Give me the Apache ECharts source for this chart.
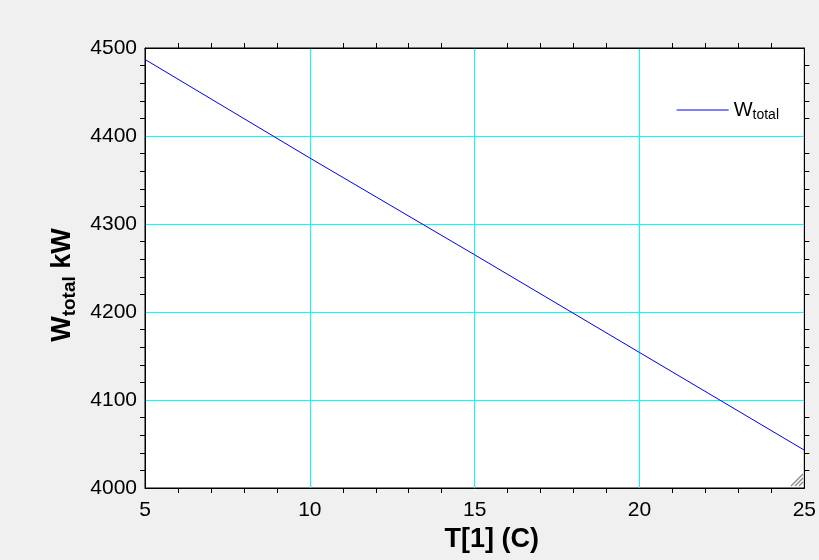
<!DOCTYPE html>
<html>
<head>
<meta charset="utf-8">
<script src="https://cdn.jsdelivr.net/npm/echarts@6/dist/echarts.min.js"></script>
<style>
html,body{margin:0;padding:0;background:#f0f0f0;}
#chart{width:819px;height:560px;}
</style>
</head>
<body>
<div id="chart"></div>
<script>
var tempC = [5, 10, 15, 20, 25];
var wTotal = [4487, 4375, 4265, 4154, 4043];
var xTicks = [5, 10, 15, 20, 25];
var yTicks = [4000, 4100, 4200, 4300, 4400, 4500];

var chart = echarts.init(document.getElementById('chart'));
var font = 'Liberation Sans, Arial, sans-serif';
var hiddenAxis = {
  axisLabel: {show: false},
  splitLine: {show: false},
  axisLine: {show: true, lineStyle: {color: '#000', width: 1}},
  axisTick: {show: false},
  minorTick: {show: true, inside: true, length: 5, splitNumber: 5, lineStyle: {color: '#000'}}
};
chart.setOption({
  backgroundColor: '#f0f0f0',
  animation: false,
  grid: {left: 145, right: 14, top: 48, bottom: 72, show: true, backgroundColor: '#fff', borderColor: '#000', borderWidth: 1},
  legend: {
    right: 35, top: 95,
    itemWidth: 52, itemHeight: 14, itemGap: 0,
    icon: 'path://M0,0 L52,0 L52,1 L0,1 Z',
    textStyle: {
      fontFamily: font, fontSize: 20, color: '#000',
      rich: {
        w: {fontFamily: font, fontSize: 20, color: '#000'},
        s: {fontFamily: font, fontSize: 14, color: '#000', verticalAlign: 'bottom', padding: [10, 0, 0, 0]}
      }
    },
    formatter: function () { return '{w|W}{s|total}'; },
    data: [{name: 'Wtotal', itemStyle: {color: '#0000ff'}}]
  },
  xAxis: [{
    type: 'value', min: xTicks[0], max: xTicks[xTicks.length - 1], interval: 5,
    name: 'T[1] (C)', nameLocation: 'middle', nameGap: 31,
    nameTextStyle: {fontFamily: font, fontSize: 27, fontWeight: 'bold', color: '#000', padding: [0, 0, 0, 34]},
    axisLine: {show: true, onZero: false, lineStyle: {color: '#000'}},
    axisTick: {show: false},
    minorTick: {show: true, inside: true, length: 5, splitNumber: 5, lineStyle: {color: '#000'}},
    axisLabel: {fontFamily: font, fontSize: 21, color: '#000', margin: 12},
    splitLine: {show: true, lineStyle: {color: '#00ffff', width: 1}}
  }, Object.assign({type: 'value', position: 'top', min: 5, max: 25, interval: 5}, hiddenAxis)],
  yAxis: [{
    type: 'value', min: yTicks[0], max: yTicks[yTicks.length - 1], interval: 100,
    name: '{w|W}{s|total}{w| kW}', nameLocation: 'middle', nameGap: 66, nameRotate: 90,
    nameTextStyle: {
      fontFamily: font, fontSize: 27, fontWeight: 'bold', color: '#000', padding: [0, 0, 0, -34],
      rich: {
        w: {fontFamily: font, fontSize: 27, fontWeight: 'bold', color: '#000'},
        s: {fontFamily: font, fontSize: 19, fontWeight: 'bold', color: '#000', verticalAlign: 'bottom', padding: [13, 0, 0, 0]}
      }
    },
    axisLine: {show: true, onZero: false, lineStyle: {color: '#000'}},
    axisTick: {show: false},
    minorTick: {show: true, inside: true, length: 5, splitNumber: 5, lineStyle: {color: '#000'}},
    axisLabel: {fontFamily: font, fontSize: 21, color: '#000', margin: 8, formatter: function (v) { return String(v); }},
    splitLine: {show: true, lineStyle: {color: '#00ffff', width: 1}}
  }, Object.assign({type: 'value', position: 'right', min: 4000, max: 4500, interval: 100}, hiddenAxis)],
  graphic: [
    {type: 'line', shape: {x1: 791, y1: 486, x2: 803, y2: 474}, style: {stroke: '#888', lineWidth: 1.2}},
    {type: 'line', shape: {x1: 795, y1: 486, x2: 803, y2: 478}, style: {stroke: '#888', lineWidth: 1.2}},
    {type: 'line', shape: {x1: 799, y1: 486, x2: 803, y2: 482}, style: {stroke: '#888', lineWidth: 1.2}}
  ],
  series: [{
    name: 'Wtotal', type: 'line', symbol: 'none', showSymbol: false,
    lineStyle: {color: '#0000ff', width: 1}, itemStyle: {color: '#0000ff'},
    data: tempC.map(function (t, i) { return [t, wTotal[i]]; })
  }]
});
</script>
</body>
</html>
